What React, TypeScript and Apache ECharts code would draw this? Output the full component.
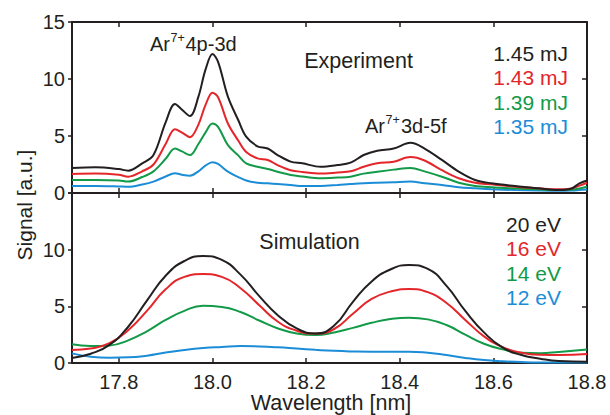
import React, { useEffect, useRef } from "react";
import * as echarts from "echarts";

// ---- Experiment (top panel) ----
const expWavelength = [
  17.70, 17.75, 17.80, 17.82, 17.85, 17.874, 17.90, 17.92, 17.935, 17.952,
  17.97, 17.985, 18.00, 18.012, 18.033, 18.055, 18.072, 18.096, 18.118, 18.139,
  18.167, 18.192, 18.231, 18.267, 18.295, 18.323, 18.352, 18.387, 18.423, 18.453,
  18.49, 18.526, 18.561, 18.596, 18.646, 18.696, 18.738, 18.767, 18.784, 18.80,
];
const exp145 = [
  2.2, 2.25, 2.1, 1.96, 2.6, 3.33, 6.2, 7.8, 7.3, 6.75,
  8.45, 10.8, 12.2, 11.5, 8.45, 6.4, 4.94, 4.1, 3.9, 3.33,
  2.75, 2.6, 2.3, 2.45, 2.66, 3.33, 3.7, 3.9, 4.4, 3.9,
  2.9, 1.87, 1.14, 0.85, 0.61, 0.41, 0.26, 0.4, 0.85, 1.1,
];
const exp143 = [
  1.67, 1.7, 1.6, 1.43, 1.9, 2.5, 4.3, 5.6, 5.3, 4.9,
  6.0, 7.7, 8.8, 8.4, 6.1, 4.6, 3.6, 3.04, 2.9, 2.45,
  2.0, 1.85, 1.7, 1.8, 1.9, 2.3, 2.6, 2.75, 3.15, 2.85,
  2.0, 1.29, 0.9, 0.76, 0.55, 0.41, 0.32, 0.4, 0.65, 0.9,
];
const exp139 = [
  1.14, 1.15, 1.1, 1.0, 1.4, 1.9, 3.0, 3.9, 3.65, 3.33,
  4.3, 5.3, 6.1, 5.8, 4.2, 3.3, 2.6, 2.3, 2.1, 1.87,
  1.58, 1.45, 1.29, 1.35, 1.43, 1.7, 1.87, 2.05, 2.2, 1.9,
  1.43, 0.9, 0.61, 0.5, 0.4, 0.32, 0.26, 0.3, 0.4, 0.55,
];
const exp135 = [
  0.61, 0.62, 0.58, 0.55, 0.75, 1.0, 1.45, 1.73, 1.6, 1.52,
  1.9, 2.4, 2.7, 2.55, 1.87, 1.4, 1.1, 0.9, 0.85, 0.79,
  0.7, 0.61, 0.62, 0.7, 0.78, 0.85, 0.9, 0.95, 1.0, 0.85,
  0.7, 0.5, 0.41, 0.33, 0.26, 0.22, 0.2, 0.22, 0.26, 0.3,
];

// ---- Simulation (bottom panel) ----
const simWavelength = [
  17.70, 17.74, 17.78, 17.82, 17.86, 17.90, 17.94, 17.98, 18.02, 18.06,
  18.10, 18.14, 18.18, 18.22, 18.26, 18.30, 18.34, 18.38, 18.42, 18.46,
  18.50, 18.54, 18.58, 18.62, 18.66, 18.70, 18.74, 18.80,
];
const sim20 = [
  0.45, 0.82, 1.6, 3.2, 5.5, 7.7, 9.0, 9.45, 9.1, 7.8,
  5.9, 4.2, 3.05, 2.6, 3.3, 5.4, 7.2, 8.25, 8.65, 8.3,
  6.8, 4.6, 2.7, 1.35, 0.7, 0.38, 0.18, 0.12,
];
const sim16 = [
  1.15, 1.28, 1.75, 2.9, 4.6, 6.5, 7.6, 7.85, 7.6, 6.6,
  5.1, 3.64, 2.85, 2.6, 3.0, 4.35, 5.65, 6.3, 6.52, 6.25,
  5.3, 3.8, 2.35, 1.4, 0.9, 0.72, 0.7, 0.8,
];
const sim14 = [
  1.65, 1.5, 1.55, 2.0, 2.8, 3.8, 4.6, 5.05, 4.95, 4.5,
  3.75, 3.05, 2.6, 2.46, 2.7, 3.1, 3.55, 3.88, 4.0, 3.85,
  3.35, 2.5, 1.7, 1.2, 0.9, 0.87, 0.98, 1.2,
];
const sim12 = [
  0.85, 0.56, 0.47, 0.5, 0.65, 0.92, 1.15, 1.32, 1.42, 1.5,
  1.46, 1.38, 1.27, 1.16, 1.07, 1.02, 1.0, 1.0, 1.0, 0.9,
  0.7, 0.45, 0.26, 0.15, 0.08, 0.05, 0.05, 0.05,
];

const xTicks = [17.8, 18.0, 18.2, 18.4, 18.6, 18.8];
const expLabels = ["1.45 mJ", "1.43 mJ", "1.39 mJ", "1.35 mJ"];
const simLabels = ["20 eV", "16 eV", "14 eV", "12 eV"];
const colors = ["#231f20", "#e4262b", "#129a48", "#1b8dd7"];

const FONT = "'Liberation Sans', Arial, sans-serif";
const INK = "#231f20";

export default function App() {
  const ref = useRef<HTMLDivElement>(null);

  useEffect(() => {
    if (!ref.current) return;
    const chart = echarts.init(ref.current, undefined, { renderer: "svg" });

    const axisLine = { show: true, onZero: false, lineStyle: { color: INK, width: 2 } };
    const tickIn = (vals?: number[]) => ({
      show: true,
      inside: true,
      length: 5,
      lineStyle: { color: INK, width: 1.5 },
      ...(vals ? { customValues: vals } : {}),
    });

    const xBase = {
      type: "value",
      min: 17.7,
      max: 18.8,
      splitLine: { show: false },
      axisLine,
    };
    const yBase = {
      type: "value",
      min: 0,
      max: 15,
      interval: 5,
      splitLine: { show: false },
      axisLine,
    };

    const xAxis: any[] = [
      // top grid bottom
      { ...xBase, gridIndex: 0, position: "bottom", axisTick: tickIn(xTicks), axisLabel: { show: false } },
      // top grid top
      { ...xBase, gridIndex: 0, position: "top", axisTick: tickIn(xTicks), axisLabel: { show: false } },
      // bottom grid bottom (labeled)
      {
        ...xBase,
        gridIndex: 1,
        position: "bottom",
        axisTick: tickIn(xTicks),
        axisLabel: {
          show: true,
          customValues: xTicks,
          formatter: (v: number) => v.toFixed(1),
          color: INK,
          fontSize: 20,
          fontFamily: FONT,
          margin: 9,
        },
      },
      // bottom grid top
      { ...xBase, gridIndex: 1, position: "top", axisTick: tickIn(xTicks), axisLabel: { show: false } },
    ];

    const yLabel = (hideMax: boolean) => ({
      show: true,
      color: INK,
      fontSize: 20,
      fontFamily: FONT,
      margin: 7,
      formatter: (v: number) => (hideMax && v === 15 ? "" : String(v)),
    });

    const yAxis: any[] = [
      {
        ...yBase,
        gridIndex: 0,
        position: "left",
        axisTick: { show: true, inside: false, length: 4, lineStyle: { color: INK, width: 1.5 } },
        axisLabel: yLabel(false),
      },
      { ...yBase, gridIndex: 0, position: "right", axisTick: tickIn(), axisLabel: { show: false } },
      {
        ...yBase,
        gridIndex: 1,
        position: "left",
        axisTick: { show: true, inside: false, length: 4, lineStyle: { color: INK, width: 1.5 } },
        axisLabel: yLabel(true),
      },
      { ...yBase, gridIndex: 1, position: "right", axisTick: tickIn(), axisLabel: { show: false } },
    ];

    const expSeries = [exp145, exp143, exp139, exp135];
    const simSeries = [sim20, sim16, sim14, sim12];

    const series: any[] = [];
    expSeries.forEach((vals, i) => {
      series.push({
        type: "line",
        name: expLabels[i],
        xAxisIndex: 0,
        yAxisIndex: 0,
        data: expWavelength.map((x, j) => [x, vals[j]]),
        showSymbol: false,
        smooth: 0.35,
        lineStyle: { color: colors[i], width: 2 },
        z: 10 - i,
      });
    });
    simSeries.forEach((vals, i) => {
      series.push({
        type: "line",
        name: simLabels[i],
        xAxisIndex: 2,
        yAxisIndex: 2,
        data: simWavelength.map((x, j) => [x, vals[j]]),
        showSymbol: false,
        smooth: 0.5,
        lineStyle: { color: colors[i], width: 2 },
        z: 10 - i,
      });
    });

    const txt = (text: string, x: number, y: number, size: number, fill: string, align = "left", extra: any = {}) => ({
      type: "text",
      x,
      y,
      ...extra,
      style: {
        text,
        fill,
        fontSize: size,
        fontFamily: FONT,
        textAlign: align,
        textVerticalAlign: "middle",
      },
      z: 100,
    });

    const graphic: any[] = [
      // Ar7+ 4p-3d
      txt("Ar", 150, 44, 20, INK),
      txt("7+", 170.5, 38, 12.5, INK),
      txt("4p-3d", 185.5, 44, 20, INK),
      // Ar7+ 3d-5f
      txt("Ar", 365, 126, 20, INK),
      txt("7+", 385.5, 120, 12.5, INK),
      txt("3d-5f", 401, 126, 20, INK),
      txt("Experiment", 358.5, 61, 21.5, INK, "center"),
      txt("Simulation", 309.5, 242, 21.5, INK, "center"),
      ...expLabels.map((l, i) => txt(l, 568, 53.5 + i * 24.4, 21, colors[i], "right")),
      ...simLabels.map((l, i) => txt(l, 561, 224.5 + i * 24.3, 21, colors[i], "right")),
      txt("Signal [a.u.]", 24, 205, 21, INK, "center", { rotation: Math.PI / 2 }),
      txt("Wavelength [nm]", 331, 403, 21.5, INK, "center"),
    ];

    chart.setOption({
      animation: false,
      backgroundColor: "#ffffff",
      grid: [
        { left: 72, top: 22, width: 515, height: 171 },
        { left: 72, top: 193, width: 515, height: 170 },
      ],
      xAxis,
      yAxis,
      series,
      graphic,
    });

    return () => chart.dispose();
  }, []);

  return (
    <div
      ref={ref}
      style={{ position: "fixed", left: 0, top: 0, width: 610, height: 415, background: "#fff" }}
    />
  );
}
